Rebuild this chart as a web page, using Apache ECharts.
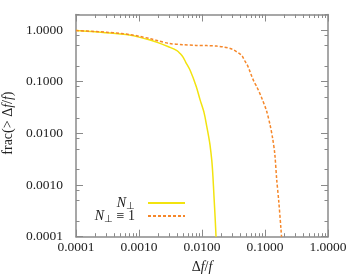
<!DOCTYPE html>
<html><head><meta charset="utf-8">
<script src="https://cdn.jsdelivr.net/npm/echarts@6/dist/echarts.min.js"></script>
<style>html,body{margin:0;padding:0;background:#fff}#c{width:352px;height:279px}</style>
</head><body><div id="c"></div>
<script>
// Data
const perpX = [0.0001,0.0002,0.0003,0.0005,0.0007,0.001,0.0015,0.002,0.003,0.004,0.0045,0.005,0.0055,0.0065,0.0081,0.0093,0.0108,0.0119,0.0128,0.0134,0.0143,0.0149,0.0155,0.0162,0.0167];
const perpY = [0.98,0.93,0.89,0.84,0.80,0.73,0.64,0.57,0.47,0.40,0.35,0.30,0.24,0.165,0.081,0.045,0.025,0.0137,0.0085,0.006,0.003,0.0015,0.0006,0.00022,0.0001];
const oneX = [0.0001,0.0002,0.0003,0.0005,0.0007,0.001,0.0015,0.002,0.003,0.005,0.008,0.012,0.017,0.022,0.028,0.032,0.038,0.043,0.048,0.052,0.058,0.062,0.067,0.074,0.089,0.106,0.120,0.132,0.143,0.1535,0.165,0.1795,0.183];
const oneY = [0.98,0.94,0.91,0.86,0.82,0.76,0.68,0.62,0.55,0.52,0.505,0.50,0.49,0.47,0.44,0.41,0.36,0.32,0.25,0.215,0.155,0.125,0.10,0.08,0.048,0.027,0.0148,0.0081,0.004,0.00126,0.0005,0.000138,0.0001];
const seriesNames = ['N⊥', 'N⊥ ≡ 1'];
const xMajor = [0.0001,0.001,0.01,0.1,1];
const yMajor = [0.0001,0.001,0.01,0.1,1];
const xMinorMult = [2,3,4,5,6,7,8,9];
const yMinorMult = [2,5,8];

const xMinor = [], yMinor = [];
for (let i = 0; i < xMajor.length - 1; i++) xMinorMult.forEach(m => xMinor.push(+(xMajor[i]*m).toPrecision(3)));
for (let i = 0; i < yMajor.length - 1; i++) yMinorMult.forEach(m => yMinor.push(+(yMajor[i]*m).toPrecision(3)));
yMinor.push(2);

const FONT = 'Liberation Serif';
const AXC = '#8a8a8a';
const lineS = {show:true, lineStyle:{color:AXC, width:1.5}};
function ax(type, pos, ticks, len, line, labels, extra) {
  const o = {
    type:'log', position:pos, logBase:10,
    min: 0.0001, max: type==='x'?1:2,
    axisLine: line ? lineS : {show:false},
    axisTick: {show:true, inside:true, length:len, customValues:ticks, lineStyle:{color:AXC, width:1}},
    axisLabel: labels ? {show:true, customValues:ticks, fontFamily:FONT, fontSize:13.5, color:'#222',
      margin: type==='x'?4:13, formatter: v => Number(v).toFixed(4)} : {show:false},
    splitLine:{show:false}, minorTick:{show:false}, minorSplitLine:{show:false}
  };
  return Object.assign(o, extra||{});
}
const pts = (xs, ys) => xs.map((x,i)=>[x, ys[i]]);
const legText = {padding:[0,8,0,0], rich:{
  i:{fontFamily:FONT,fontSize:14,fontStyle:'italic',color:'#222'},
  s:{fontFamily:FONT,fontSize:10,color:'#222',padding:[7,0,0,0]},
  r:{fontFamily:FONT,fontSize:14,color:'#222'}}};

const chart = echarts.init(document.getElementById('c'), null, {renderer:'canvas'});
chart.setOption({
  animation:false,
  grid:{left:76, top:14.5, right:24, bottom:42.3, containLabel:false, outerBoundsMode:'none'},
  xAxis:[
    ax('x','bottom',xMajor,7,true,true,{
      name:'{r|Δ}{i|f}{r|/}{i|f}', nameLocation:'middle', nameGap:24,
      nameTextStyle:{rich:{r:{fontFamily:FONT,fontSize:14,color:'#222'},i:{fontFamily:FONT,fontSize:14,fontStyle:'italic',color:'#222'}}}}),
    ax('x','bottom',xMinor,3.5,false,false),
    ax('x','top',xMajor,7,true,false),
    ax('x','top',xMinor,3.5,false,false)
  ],
  yAxis:[
    ax('y','left',yMajor,7,true,true,{
      name:'{r|frac(> Δ}{i|f}{r|/}{i|f}{r|)}', nameLocation:'middle', nameGap:57, nameRotate:90,
      nameTextStyle:{padding:[0,0,0,5], rich:{r:{fontFamily:FONT,fontSize:14,color:'#222'},i:{fontFamily:FONT,fontSize:14,fontStyle:'italic',color:'#222'}}}}),
    ax('y','left',yMinor,3.5,false,false),
    ax('y','right',yMajor,7,true,false),
    ax('y','right',yMinor,3.5,false,false)
  ],
  legend:[
    {data:[seriesNames[0]], orient:'vertical', right:166, top:196, align:'right', itemWidth:37, itemHeight:12,
     itemGap:0, padding:0, itemStyle:{opacity:0}, textStyle:legText,
     formatter: () => '{i|N}{s|⊥}'},
    {data:[seriesNames[1]], orient:'vertical', right:166, top:209, align:'right', itemWidth:37, itemHeight:12,
     itemGap:0, padding:0, itemStyle:{opacity:0}, textStyle:legText,
     formatter: () => '{i|N}{s|⊥}{r| ≡ 1}'}
  ],
  series:[
    {name:seriesNames[0], type:'line', data:pts(perpX, perpY), xAxisIndex:0, yAxisIndex:0, showSymbol:false, symbol:'none', smooth:0.3,
     lineStyle:{color:'#f2e30f', width:1.5}, itemStyle:{color:'#f2e30f'}},
    {name:seriesNames[1], type:'line', data:pts(oneX, oneY), xAxisIndex:0, yAxisIndex:0, showSymbol:false, symbol:'none', smooth:0.3,
     lineStyle:{color:'#f5872a', width:1.5, type:[3,2]}, itemStyle:{color:'#f5872a'}}
  ]
});
</script></body></html>
